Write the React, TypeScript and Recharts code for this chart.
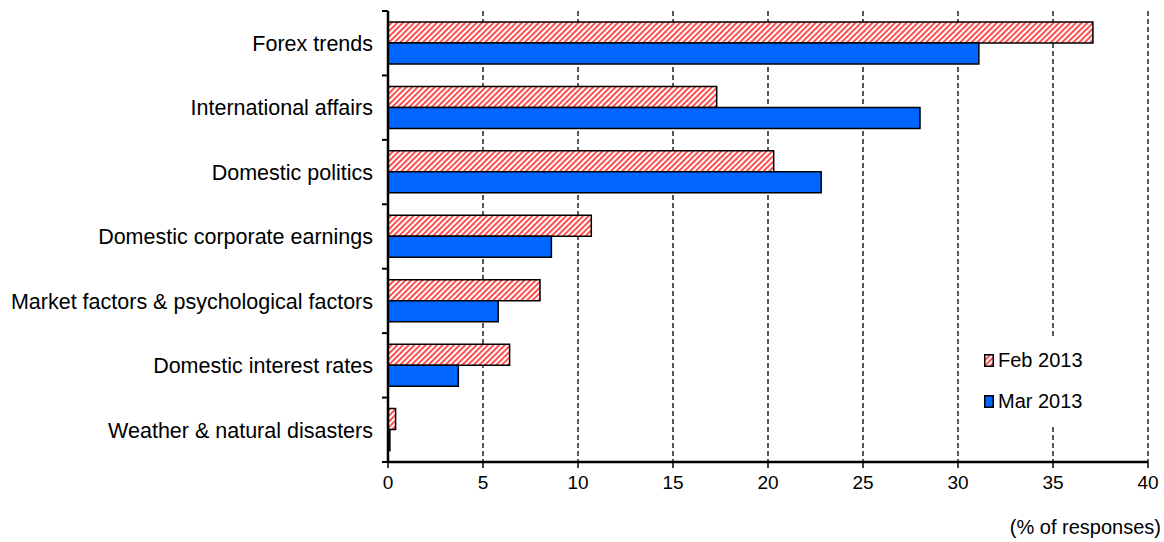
import { BarChart, Bar, XAxis, YAxis, CartesianGrid, Legend } from "recharts";

const categories = [
  "Forex trends",
  "International affairs",
  "Domestic politics",
  "Domestic corporate earnings",
  "Market factors & psychological factors",
  "Domestic interest rates",
  "Weather & natural disasters",
];
const feb2013 = [37.1, 17.3, 20.3, 10.7, 8.0, 6.4, 0.4];
const mar2013 = [31.1, 28.0, 22.8, 8.6, 5.8, 3.7, 0.1];
const xTicks = [0, 5, 10, 15, 20, 25, 30, 35, 40];

const data = categories.map((name, i) => ({ name, feb: feb2013[i], mar: mar2013[i] }));

const WIDTH = 1164;
const HEIGHT = 542;
const MARGIN = { top: 11, right: 16, bottom: 0, left: 0 };
const X_AXIS_H = 80;
const BAND = (HEIGHT - MARGIN.top - MARGIN.bottom - X_AXIS_H) / categories.length;
const BLUE = "#0066FF";
const FONT = "'Liberation Sans', Arial, sans-serif";

const CategoryTick = (props: any) => {
  const { x, y, payload, index } = props;
  const last = index === categories.length - 1;
  return (
    <g>
      <line x1={x - 6} x2={x} y1={y - BAND / 2} y2={y - BAND / 2} stroke="#000" strokeWidth={2} />
      {last && <line x1={x - 6} x2={x} y1={y + BAND / 2} y2={y + BAND / 2} stroke="#000" strokeWidth={2} />}
      <text x={x - 15} y={y} dy="0.36em" textAnchor="end" fontSize={21.5} fill="#000" fontFamily={FONT}>
        {payload.value}
      </text>
    </g>
  );
};

const Hatch = ({ id }: { id: string }) => (
  <pattern id={id} width={4} height={4} patternUnits="userSpaceOnUse" patternTransform="rotate(45)">
    <rect width={4} height={4} fill="#fff" />
    <line x1={1} y1={0} x2={1} y2={4} stroke="#FF2020" strokeWidth={1.6} />
  </pattern>
);

const renderLegend = () => (
  <div style={{ background: "#fff", padding: "3px 8px", fontFamily: FONT, fontSize: 20, color: "#000" }}>
    {[
      { label: "Feb 2013", fill: "url(#hatchLegend)" },
      { label: "Mar 2013", fill: BLUE },
    ].map((item, i) => (
      <div key={item.label} style={{ display: "flex", alignItems: "center", height: 41 }}>
        <svg width={10} height={13} style={{ marginRight: 4 }}>
          {i === 0 && (
            <defs>
              <Hatch id="hatchLegend" />
            </defs>
          )}
          <rect x={0.75} y={0.75} width={8.5} height={11.5} fill={item.fill} stroke="#000" strokeWidth={1.5} />
        </svg>
        <span>{item.label}</span>
      </div>
    ))}
  </div>
);

export default function App() {
  return (
    <div style={{ width: WIDTH, height: HEIGHT, background: "#fff" }}>
      <style>{"body{margin:0;background:#fff}"}</style>
      <BarChart
        width={WIDTH}
        height={HEIGHT}
        data={data}
        layout="vertical"
        margin={MARGIN}
        barGap={0}
        barSize={21}
        style={{ fontFamily: FONT }}
      >
        <defs>
          <Hatch id="hatchFeb" />
        </defs>
        <CartesianGrid horizontal={false} stroke="#000" strokeWidth={1.3} strokeDasharray="5 3" />
        <XAxis
          type="number"
          domain={[0, 40]}
          ticks={xTicks}
          height={X_AXIS_H}
          axisLine={{ stroke: "#000", strokeWidth: 2.5 }}
          tickLine={{ stroke: "#000", strokeWidth: 1.5 }}
          tickSize={6}
          tickMargin={8}
          tick={{ fill: "#000", fontSize: 19, fontFamily: FONT }}
          label={{
            content: (p: any) => (
              <text
                x={p.viewBox.x + p.viewBox.width + 13}
                y={p.viewBox.y + 72}
                textAnchor="end"
                fontSize={20}
                fill="#000"
                fontFamily={FONT}
              >
                (% of responses)
              </text>
            ),
          }}
        />
        <YAxis
          type="category"
          dataKey="name"
          width={388}
          axisLine={{ stroke: "#000", strokeWidth: 2.5 }}
          tickLine={false}
          tickSize={0}
          tickMargin={0}
          interval={0}
          tick={<CategoryTick />}
        />
        <Bar dataKey="feb" name="Feb 2013" fill="url(#hatchFeb)" stroke="#000" strokeWidth={1.5} isAnimationActive={false} />
        <Bar dataKey="mar" name="Mar 2013" fill={BLUE} stroke="#000" strokeWidth={1.5} isAnimationActive={false} />
        <Legend
          layout="horizontal"
          align="center"
          verticalAlign="middle"
          content={renderLegend}
          wrapperStyle={{ position: "absolute", left: 976, top: 337, width: "auto", height: "auto" }}
        />
      </BarChart>
    </div>
  );
}
